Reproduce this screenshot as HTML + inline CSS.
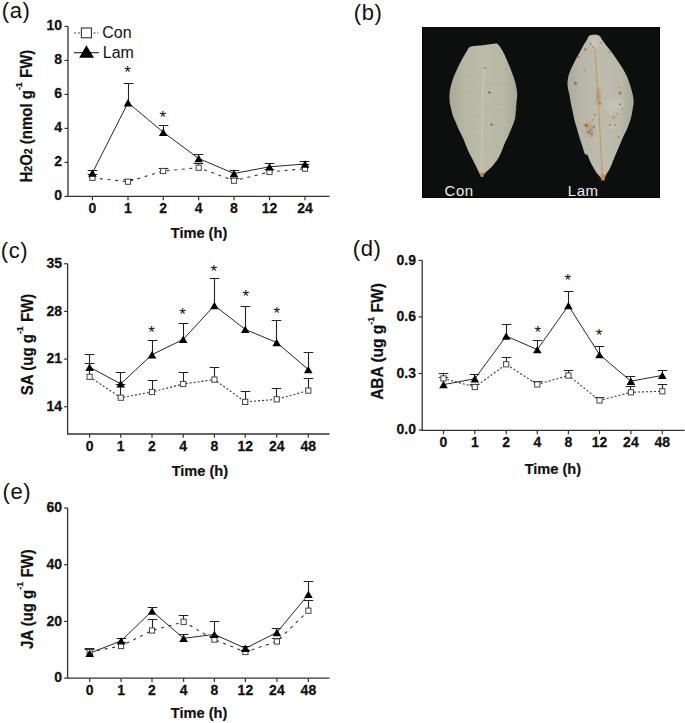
<!DOCTYPE html>
<html><head><meta charset="utf-8"><style>
html,body{margin:0;padding:0;background:#fff;}
svg{display:block;}
text{font-family:"Liberation Sans", sans-serif;fill:#111;}
.tl{font-weight:bold;font-size:14px;stroke:#111;stroke-width:0.25px;}
.xt{font-weight:bold;font-size:14.6px;stroke:#111;stroke-width:0.2px;}
.yt{font-weight:bold;font-size:15px;stroke:#111;stroke-width:0.2px;}
.pl{font-size:22px;letter-spacing:0.6px;}
.lg{font-size:16px;}
.as{font-size:17px;}
.ph{font-size:15px;fill:#ececec;letter-spacing:0.5px;}
</style></head><body>
<svg width="685" height="723" viewBox="0 0 685 723">
<rect width="685" height="723" fill="#fff"/>
<path d="M68 26.4V196.4H329.5" fill="none" stroke="#333" stroke-width="1.3"/>
<path d="M64.5 196.4H68" stroke="#333" stroke-width="1.2"/>
<text transform="translate(62 199.5) scale(1 1.08)" text-anchor="end" class="tl">0</text>
<path d="M64.5 162.4H68" stroke="#333" stroke-width="1.2"/>
<text transform="translate(62 165.5) scale(1 1.08)" text-anchor="end" class="tl">2</text>
<path d="M64.5 128.4H68" stroke="#333" stroke-width="1.2"/>
<text transform="translate(62 131.5) scale(1 1.08)" text-anchor="end" class="tl">4</text>
<path d="M64.5 94.4H68" stroke="#333" stroke-width="1.2"/>
<text transform="translate(62 97.5) scale(1 1.08)" text-anchor="end" class="tl">6</text>
<path d="M64.5 60.4H68" stroke="#333" stroke-width="1.2"/>
<text transform="translate(62 63.5) scale(1 1.08)" text-anchor="end" class="tl">8</text>
<path d="M64.5 26.4H68" stroke="#333" stroke-width="1.2"/>
<text transform="translate(62 29.5) scale(1 1.08)" text-anchor="end" class="tl">10</text>
<path d="M92.4 196.4V200.2" stroke="#333" stroke-width="1.2"/>
<text transform="translate(92.4 213.2) scale(1 1.08)" text-anchor="middle" class="tl">0</text>
<path d="M128 196.4V200.2" stroke="#333" stroke-width="1.2"/>
<text transform="translate(128 213.2) scale(1 1.08)" text-anchor="middle" class="tl">1</text>
<path d="M163.2 196.4V200.2" stroke="#333" stroke-width="1.2"/>
<text transform="translate(163.2 213.2) scale(1 1.08)" text-anchor="middle" class="tl">2</text>
<path d="M198.7 196.4V200.2" stroke="#333" stroke-width="1.2"/>
<text transform="translate(198.7 213.2) scale(1 1.08)" text-anchor="middle" class="tl">4</text>
<path d="M234 196.4V200.2" stroke="#333" stroke-width="1.2"/>
<text transform="translate(234 213.2) scale(1 1.08)" text-anchor="middle" class="tl">8</text>
<path d="M269.5 196.4V200.2" stroke="#333" stroke-width="1.2"/>
<text transform="translate(269.5 213.2) scale(1 1.08)" text-anchor="middle" class="tl">12</text>
<path d="M305 196.4V200.2" stroke="#333" stroke-width="1.2"/>
<text transform="translate(305 213.2) scale(1 1.08)" text-anchor="middle" class="tl">24</text>
<text x="199" y="237.6" text-anchor="middle" class="xt">Time (h)</text>
<text transform="translate(31.8 116.1) rotate(-90) scale(1 1.09)" text-anchor="middle" class="yt" style="font-size:15px">H<tspan font-size="10.5">2</tspan>O<tspan font-size="10.5">2</tspan> (nmol g<tspan font-size="9" dy="-8.6">-1</tspan><tspan dy="8.6"> FW)</tspan></text>
<text x="1.8" y="17.6" class="pl">(a)</text>
<polyline points="92.4,177.8 128,181.7 163.2,171 198.7,167.7 234,180.7 269.5,172 305,168.7" fill="none" stroke="#333" stroke-width="1.1" stroke-dasharray="3 4.6"/>
<polyline points="92.4,173 128,102.7 163.2,132.2 198.7,158.5 234,173.5 269.5,166.8 305,164" fill="none" stroke="#282828" stroke-width="1"/>
<path d="M92.5 177.8V174.5M87.7 174.5H97.3" stroke="#222" stroke-width="1.1" fill="none"/>
<path d="M128.5 181.7V179.5M123.7 179.5H133.3" stroke="#222" stroke-width="1.1" fill="none"/>
<path d="M163.5 171V168.5M158.7 168.5H168.3" stroke="#222" stroke-width="1.1" fill="none"/>
<path d="M198.5 167.7V163.5M193.7 163.5H203.3" stroke="#222" stroke-width="1.1" fill="none"/>
<path d="M234.5 180.7V178.5M229.7 178.5H239.3" stroke="#222" stroke-width="1.1" fill="none"/>
<path d="M269.5 172V169.5M264.7 169.5H274.3" stroke="#222" stroke-width="1.1" fill="none"/>
<path d="M304.5 168.7V164.5M299.7 164.5H309.3" stroke="#222" stroke-width="1.1" fill="none"/>
<path d="M92.5 173V170.5M87.7 170.5H97.3" stroke="#222" stroke-width="1.1" fill="none"/>
<path d="M128.5 102.7V83.5M123.7 83.5H133.3" stroke="#222" stroke-width="1.1" fill="none"/>
<path d="M163.5 132.2V125.5M158.7 125.5H168.3" stroke="#222" stroke-width="1.1" fill="none"/>
<path d="M198.5 158.5V154.5M193.7 154.5H203.3" stroke="#222" stroke-width="1.1" fill="none"/>
<path d="M234.5 173.5V170.5M229.7 170.5H239.3" stroke="#222" stroke-width="1.1" fill="none"/>
<path d="M269.5 166.8V163.5M264.7 163.5H274.3" stroke="#222" stroke-width="1.1" fill="none"/>
<path d="M304.5 164V161.5M299.7 161.5H309.3" stroke="#222" stroke-width="1.1" fill="none"/>
<rect x="89.8" y="175.2" width="5.2" height="5.2" fill="#fff" stroke="#444" stroke-width="1"/>
<rect x="125.4" y="179.1" width="5.2" height="5.2" fill="#fff" stroke="#444" stroke-width="1"/>
<rect x="160.6" y="168.4" width="5.2" height="5.2" fill="#fff" stroke="#444" stroke-width="1"/>
<rect x="196.1" y="165.1" width="5.2" height="5.2" fill="#fff" stroke="#444" stroke-width="1"/>
<rect x="231.4" y="178.1" width="5.2" height="5.2" fill="#fff" stroke="#444" stroke-width="1"/>
<rect x="266.9" y="169.4" width="5.2" height="5.2" fill="#fff" stroke="#444" stroke-width="1"/>
<rect x="302.4" y="166.1" width="5.2" height="5.2" fill="#fff" stroke="#444" stroke-width="1"/>
<path d="M92.4 169.3L96.7 176.7L88.1 176.7Z" fill="#000"/>
<path d="M128 99L132.3 106.4L123.7 106.4Z" fill="#000"/>
<path d="M163.2 128.5L167.5 135.9L158.9 135.9Z" fill="#000"/>
<path d="M198.7 154.8L203 162.2L194.4 162.2Z" fill="#000"/>
<path d="M234 169.8L238.3 177.2L229.7 177.2Z" fill="#000"/>
<path d="M269.5 163.1L273.8 170.5L265.2 170.5Z" fill="#000"/>
<path d="M305 160.3L309.3 167.7L300.7 167.7Z" fill="#000"/>
<text x="127.5" y="77.6" text-anchor="middle" class="as">*</text>
<text x="162.8" y="122.9" text-anchor="middle" class="as">*</text>
<path d="M67.6 263.8V434H329.5" fill="none" stroke="#333" stroke-width="1.3"/>
<path d="M64.1 406.76H67.6" stroke="#333" stroke-width="1.2"/>
<text transform="translate(62 410.86) scale(1 1.08)" text-anchor="end" class="tl">14</text>
<path d="M64.1 359.09H67.6" stroke="#333" stroke-width="1.2"/>
<text transform="translate(62 363.19) scale(1 1.08)" text-anchor="end" class="tl">21</text>
<path d="M64.1 311.42H67.6" stroke="#333" stroke-width="1.2"/>
<text transform="translate(62 315.52) scale(1 1.08)" text-anchor="end" class="tl">28</text>
<path d="M64.1 263.75H67.6" stroke="#333" stroke-width="1.2"/>
<text transform="translate(62 267.85) scale(1 1.08)" text-anchor="end" class="tl">35</text>
<path d="M89.6 434V437.8" stroke="#333" stroke-width="1.2"/>
<text transform="translate(89.6 451.3) scale(1 1.08)" text-anchor="middle" class="tl">0</text>
<path d="M120.7 434V437.8" stroke="#333" stroke-width="1.2"/>
<text transform="translate(120.7 451.3) scale(1 1.08)" text-anchor="middle" class="tl">1</text>
<path d="M152 434V437.8" stroke="#333" stroke-width="1.2"/>
<text transform="translate(152 451.3) scale(1 1.08)" text-anchor="middle" class="tl">2</text>
<path d="M183.2 434V437.8" stroke="#333" stroke-width="1.2"/>
<text transform="translate(183.2 451.3) scale(1 1.08)" text-anchor="middle" class="tl">4</text>
<path d="M214.4 434V437.8" stroke="#333" stroke-width="1.2"/>
<text transform="translate(214.4 451.3) scale(1 1.08)" text-anchor="middle" class="tl">8</text>
<path d="M245.2 434V437.8" stroke="#333" stroke-width="1.2"/>
<text transform="translate(245.2 451.3) scale(1 1.08)" text-anchor="middle" class="tl">12</text>
<path d="M276.7 434V437.8" stroke="#333" stroke-width="1.2"/>
<text transform="translate(276.7 451.3) scale(1 1.08)" text-anchor="middle" class="tl">24</text>
<path d="M308.3 434V437.8" stroke="#333" stroke-width="1.2"/>
<text transform="translate(308.3 451.3) scale(1 1.08)" text-anchor="middle" class="tl">48</text>
<text x="199.9" y="475.7" text-anchor="middle" class="xt">Time (h)</text>
<text transform="translate(32.6 344.4) rotate(-90) scale(1 1.09)" text-anchor="middle" class="yt" style="font-size:15px">SA (ug g<tspan font-size="9" dy="-8.6">-1</tspan><tspan dy="8.6"> FW)</tspan></text>
<text x="0.8" y="258.3" class="pl">(c)</text>
<polyline points="89.6,376.8 120.7,397.7 152,392 183.2,384 214.4,379.6 245.2,401.9 276.7,399.3 308.3,390.6" fill="none" stroke="#333" stroke-width="1.1" stroke-dasharray="2 2"/>
<polyline points="89.6,367.2 120.7,383.8 152,354.7 183.2,339.4 214.4,305.5 245.2,329.4 276.7,342.5 308.3,369.6" fill="none" stroke="#282828" stroke-width="1"/>
<path d="M89.5 376.8V363.5M84.7 363.5H94.3" stroke="#222" stroke-width="1.1" fill="none"/>
<path d="M120.5 397.7V384.5M115.7 384.5H125.3" stroke="#222" stroke-width="1.1" fill="none"/>
<path d="M152.5 392V380.5M147.7 380.5H157.3" stroke="#222" stroke-width="1.1" fill="none"/>
<path d="M183.5 384V372.5M178.7 372.5H188.3" stroke="#222" stroke-width="1.1" fill="none"/>
<path d="M214.5 379.6V367.5M209.7 367.5H219.3" stroke="#222" stroke-width="1.1" fill="none"/>
<path d="M245.5 401.9V391.5M240.7 391.5H250.3" stroke="#222" stroke-width="1.1" fill="none"/>
<path d="M276.5 399.3V388.5M271.7 388.5H281.3" stroke="#222" stroke-width="1.1" fill="none"/>
<path d="M308.5 390.6V378.5M303.7 378.5H313.3" stroke="#222" stroke-width="1.1" fill="none"/>
<path d="M89.5 367.2V354.5M84.7 354.5H94.3" stroke="#222" stroke-width="1.1" fill="none"/>
<path d="M120.5 383.8V372.5M115.7 372.5H125.3" stroke="#222" stroke-width="1.1" fill="none"/>
<path d="M152.5 354.7V340.5M147.7 340.5H157.3" stroke="#222" stroke-width="1.1" fill="none"/>
<path d="M183.5 339.4V323.5M178.7 323.5H188.3" stroke="#222" stroke-width="1.1" fill="none"/>
<path d="M214.5 305.5V278.5M209.7 278.5H219.3" stroke="#222" stroke-width="1.1" fill="none"/>
<path d="M245.5 329.4V306.5M240.7 306.5H250.3" stroke="#222" stroke-width="1.1" fill="none"/>
<path d="M276.5 342.5V320.5M271.7 320.5H281.3" stroke="#222" stroke-width="1.1" fill="none"/>
<path d="M308.5 369.6V352.5M303.7 352.5H313.3" stroke="#222" stroke-width="1.1" fill="none"/>
<rect x="87" y="374.2" width="5.2" height="5.2" fill="#fff" stroke="#444" stroke-width="1"/>
<rect x="118.1" y="395.1" width="5.2" height="5.2" fill="#fff" stroke="#444" stroke-width="1"/>
<rect x="149.4" y="389.4" width="5.2" height="5.2" fill="#fff" stroke="#444" stroke-width="1"/>
<rect x="180.6" y="381.4" width="5.2" height="5.2" fill="#fff" stroke="#444" stroke-width="1"/>
<rect x="211.8" y="377" width="5.2" height="5.2" fill="#fff" stroke="#444" stroke-width="1"/>
<rect x="242.6" y="399.3" width="5.2" height="5.2" fill="#fff" stroke="#444" stroke-width="1"/>
<rect x="274.1" y="396.7" width="5.2" height="5.2" fill="#fff" stroke="#444" stroke-width="1"/>
<rect x="305.7" y="388" width="5.2" height="5.2" fill="#fff" stroke="#444" stroke-width="1"/>
<path d="M89.6 363.5L93.9 370.9L85.3 370.9Z" fill="#000"/>
<path d="M120.7 380.1L125 387.5L116.4 387.5Z" fill="#000"/>
<path d="M152 351L156.3 358.4L147.7 358.4Z" fill="#000"/>
<path d="M183.2 335.7L187.5 343.1L178.9 343.1Z" fill="#000"/>
<path d="M214.4 301.8L218.7 309.2L210.1 309.2Z" fill="#000"/>
<path d="M245.2 325.7L249.5 333.1L240.9 333.1Z" fill="#000"/>
<path d="M276.7 338.8L281 346.2L272.4 346.2Z" fill="#000"/>
<path d="M308.3 365.9L312.6 373.3L304 373.3Z" fill="#000"/>
<text x="151.5" y="337.6" text-anchor="middle" class="as">*</text>
<text x="182.5" y="319.9" text-anchor="middle" class="as">*</text>
<text x="213.9" y="276.5" text-anchor="middle" class="as">*</text>
<text x="245.8" y="302" text-anchor="middle" class="as">*</text>
<text x="276.7" y="318.6" text-anchor="middle" class="as">*</text>
<path d="M422.2 260.4V430.4H684.5" fill="none" stroke="#333" stroke-width="1.3"/>
<path d="M418.7 430H422.2" stroke="#333" stroke-width="1.2"/>
<text transform="translate(416 434.1) scale(1 1.08)" text-anchor="end" class="tl">0.0</text>
<path d="M418.7 373.5H422.2" stroke="#333" stroke-width="1.2"/>
<text transform="translate(416 377.6) scale(1 1.08)" text-anchor="end" class="tl">0.3</text>
<path d="M418.7 316.9H422.2" stroke="#333" stroke-width="1.2"/>
<text transform="translate(416 321) scale(1 1.08)" text-anchor="end" class="tl">0.6</text>
<path d="M418.7 260.4H422.2" stroke="#333" stroke-width="1.2"/>
<text transform="translate(416 264.5) scale(1 1.08)" text-anchor="end" class="tl">0.9</text>
<path d="M443.5 430.4V434.2" stroke="#333" stroke-width="1.2"/>
<text transform="translate(443.5 446.7) scale(1 1.08)" text-anchor="middle" class="tl">0</text>
<path d="M474.8 430.4V434.2" stroke="#333" stroke-width="1.2"/>
<text transform="translate(474.8 446.7) scale(1 1.08)" text-anchor="middle" class="tl">1</text>
<path d="M506.2 430.4V434.2" stroke="#333" stroke-width="1.2"/>
<text transform="translate(506.2 446.7) scale(1 1.08)" text-anchor="middle" class="tl">2</text>
<path d="M537.3 430.4V434.2" stroke="#333" stroke-width="1.2"/>
<text transform="translate(537.3 446.7) scale(1 1.08)" text-anchor="middle" class="tl">4</text>
<path d="M568.4 430.4V434.2" stroke="#333" stroke-width="1.2"/>
<text transform="translate(568.4 446.7) scale(1 1.08)" text-anchor="middle" class="tl">8</text>
<path d="M599.5 430.4V434.2" stroke="#333" stroke-width="1.2"/>
<text transform="translate(599.5 446.7) scale(1 1.08)" text-anchor="middle" class="tl">12</text>
<path d="M630.9 430.4V434.2" stroke="#333" stroke-width="1.2"/>
<text transform="translate(630.9 446.7) scale(1 1.08)" text-anchor="middle" class="tl">24</text>
<path d="M662.3 430.4V434.2" stroke="#333" stroke-width="1.2"/>
<text transform="translate(662.3 446.7) scale(1 1.08)" text-anchor="middle" class="tl">48</text>
<text x="552.9" y="474" text-anchor="middle" class="xt">Time (h)</text>
<text transform="translate(383.3 341.5) rotate(-90) scale(1 1.09)" text-anchor="middle" class="yt" style="font-size:15.5px">ABA (ug g<tspan font-size="9" dy="-8.6">-1</tspan><tspan dy="8.6"> FW)</tspan></text>
<text x="352.8" y="256.4" class="pl">(d)</text>
<polyline points="443.5,378.4 474.8,387 506.2,364.3 537.3,384.4 568.4,375.5 599.5,400.4 630.9,392.3 662.3,391.3" fill="none" stroke="#333" stroke-width="1.1" stroke-dasharray="2 2"/>
<polyline points="443.5,384.6 474.8,378.8 506.2,336.1 537.3,349.6 568.4,305.6 599.5,354.6 630.9,381.2 662.3,375.4" fill="none" stroke="#282828" stroke-width="1"/>
<path d="M443.5 378.4V373.5M438.7 373.5H448.3" stroke="#222" stroke-width="1.1" fill="none"/>
<path d="M474.5 387V384.5M469.7 384.5H479.3" stroke="#222" stroke-width="1.1" fill="none"/>
<path d="M506.5 364.3V357.5M501.7 357.5H511.3" stroke="#222" stroke-width="1.1" fill="none"/>
<path d="M537.5 384.4V381.5M532.7 381.5H542.3" stroke="#222" stroke-width="1.1" fill="none"/>
<path d="M568.5 375.5V370.5M563.7 370.5H573.3" stroke="#222" stroke-width="1.1" fill="none"/>
<path d="M599.5 400.4V397.5M594.7 397.5H604.3" stroke="#222" stroke-width="1.1" fill="none"/>
<path d="M630.5 392.3V386.5M625.7 386.5H635.3" stroke="#222" stroke-width="1.1" fill="none"/>
<path d="M662.5 391.3V384.5M657.7 384.5H667.3" stroke="#222" stroke-width="1.1" fill="none"/>
<path d="M443.5 384.6V377.5M438.7 377.5H448.3" stroke="#222" stroke-width="1.1" fill="none"/>
<path d="M474.5 378.8V374.5M469.7 374.5H479.3" stroke="#222" stroke-width="1.1" fill="none"/>
<path d="M506.5 336.1V324.5M501.7 324.5H511.3" stroke="#222" stroke-width="1.1" fill="none"/>
<path d="M537.5 349.6V340.5M532.7 340.5H542.3" stroke="#222" stroke-width="1.1" fill="none"/>
<path d="M568.5 305.6V291.5M563.7 291.5H573.3" stroke="#222" stroke-width="1.1" fill="none"/>
<path d="M599.5 354.6V346.5M594.7 346.5H604.3" stroke="#222" stroke-width="1.1" fill="none"/>
<path d="M630.5 381.2V376.5M625.7 376.5H635.3" stroke="#222" stroke-width="1.1" fill="none"/>
<path d="M662.5 375.4V370.5M657.7 370.5H667.3" stroke="#222" stroke-width="1.1" fill="none"/>
<rect x="440.9" y="375.8" width="5.2" height="5.2" fill="#fff" stroke="#444" stroke-width="1"/>
<rect x="472.2" y="384.4" width="5.2" height="5.2" fill="#fff" stroke="#444" stroke-width="1"/>
<rect x="503.6" y="361.7" width="5.2" height="5.2" fill="#fff" stroke="#444" stroke-width="1"/>
<rect x="534.7" y="381.8" width="5.2" height="5.2" fill="#fff" stroke="#444" stroke-width="1"/>
<rect x="565.8" y="372.9" width="5.2" height="5.2" fill="#fff" stroke="#444" stroke-width="1"/>
<rect x="596.9" y="397.8" width="5.2" height="5.2" fill="#fff" stroke="#444" stroke-width="1"/>
<rect x="628.3" y="389.7" width="5.2" height="5.2" fill="#fff" stroke="#444" stroke-width="1"/>
<rect x="659.7" y="388.7" width="5.2" height="5.2" fill="#fff" stroke="#444" stroke-width="1"/>
<path d="M443.5 380.9L447.8 388.3L439.2 388.3Z" fill="#000"/>
<path d="M474.8 375.1L479.1 382.5L470.5 382.5Z" fill="#000"/>
<path d="M506.2 332.4L510.5 339.8L501.9 339.8Z" fill="#000"/>
<path d="M537.3 345.9L541.6 353.3L533 353.3Z" fill="#000"/>
<path d="M568.4 301.9L572.7 309.3L564.1 309.3Z" fill="#000"/>
<path d="M599.5 350.9L603.8 358.3L595.2 358.3Z" fill="#000"/>
<path d="M630.9 377.5L635.2 384.9L626.6 384.9Z" fill="#000"/>
<path d="M662.3 371.7L666.6 379.1L658 379.1Z" fill="#000"/>
<text x="537.7" y="338.1" text-anchor="middle" class="as">*</text>
<text x="567.8" y="286.2" text-anchor="middle" class="as">*</text>
<text x="599" y="341.2" text-anchor="middle" class="as">*</text>
<path d="M67.6 508V678.1H329.5" fill="none" stroke="#333" stroke-width="1.3"/>
<path d="M64.1 678.1H67.6" stroke="#333" stroke-width="1.2"/>
<text transform="translate(62 682.2) scale(1 1.08)" text-anchor="end" class="tl">0</text>
<path d="M64.1 621.4H67.6" stroke="#333" stroke-width="1.2"/>
<text transform="translate(62 625.5) scale(1 1.08)" text-anchor="end" class="tl">20</text>
<path d="M64.1 564.7H67.6" stroke="#333" stroke-width="1.2"/>
<text transform="translate(62 568.8) scale(1 1.08)" text-anchor="end" class="tl">40</text>
<path d="M64.1 508H67.6" stroke="#333" stroke-width="1.2"/>
<text transform="translate(62 512.1) scale(1 1.08)" text-anchor="end" class="tl">60</text>
<path d="M89.7 678.1V681.9" stroke="#333" stroke-width="1.2"/>
<text transform="translate(89.7 695.2) scale(1 1.08)" text-anchor="middle" class="tl">0</text>
<path d="M121.1 678.1V681.9" stroke="#333" stroke-width="1.2"/>
<text transform="translate(121.1 695.2) scale(1 1.08)" text-anchor="middle" class="tl">1</text>
<path d="M152 678.1V681.9" stroke="#333" stroke-width="1.2"/>
<text transform="translate(152 695.2) scale(1 1.08)" text-anchor="middle" class="tl">2</text>
<path d="M183.6 678.1V681.9" stroke="#333" stroke-width="1.2"/>
<text transform="translate(183.6 695.2) scale(1 1.08)" text-anchor="middle" class="tl">4</text>
<path d="M214.4 678.1V681.9" stroke="#333" stroke-width="1.2"/>
<text transform="translate(214.4 695.2) scale(1 1.08)" text-anchor="middle" class="tl">8</text>
<path d="M245.4 678.1V681.9" stroke="#333" stroke-width="1.2"/>
<text transform="translate(245.4 695.2) scale(1 1.08)" text-anchor="middle" class="tl">12</text>
<path d="M276.9 678.1V681.9" stroke="#333" stroke-width="1.2"/>
<text transform="translate(276.9 695.2) scale(1 1.08)" text-anchor="middle" class="tl">24</text>
<path d="M308.4 678.1V681.9" stroke="#333" stroke-width="1.2"/>
<text transform="translate(308.4 695.2) scale(1 1.08)" text-anchor="middle" class="tl">48</text>
<text x="199.1" y="718.3" text-anchor="middle" class="xt">Time (h)</text>
<text transform="translate(32.5 599.2) rotate(-90) scale(1 1.09)" text-anchor="middle" class="yt" style="font-size:15px">JA (ug g<tspan font-size="9" dy="-8.6">-1</tspan><tspan dy="8.6"> FW)</tspan></text>
<text x="2.6" y="498.8" class="pl">(e)</text>
<polyline points="89.7,652 121.1,646 152,630.5 183.6,621.8 214.4,639.6 245.4,652 276.9,641.5 308.4,610.7" fill="none" stroke="#333" stroke-width="1.1" stroke-dasharray="3 4.6"/>
<polyline points="89.7,653.2 121.1,640.9 152,611.1 183.6,638.3 214.4,634.4 245.4,648.3 276.9,632.5 308.4,594.4" fill="none" stroke="#282828" stroke-width="1"/>
<path d="M89.5 652V648.5M84.7 648.5H94.3" stroke="#222" stroke-width="1.1" fill="none"/>
<path d="M121.5 646V642.5M116.7 642.5H126.3" stroke="#222" stroke-width="1.1" fill="none"/>
<path d="M152.5 630.5V619.5M147.7 619.5H157.3" stroke="#222" stroke-width="1.1" fill="none"/>
<path d="M183.5 621.8V615.5M178.7 615.5H188.3" stroke="#222" stroke-width="1.1" fill="none"/>
<path d="M214.5 639.6V636.5M209.7 636.5H219.3" stroke="#222" stroke-width="1.1" fill="none"/>
<path d="M245.5 652V650.5M240.7 650.5H250.3" stroke="#222" stroke-width="1.1" fill="none"/>
<path d="M276.5 641.5V638.5M271.7 638.5H281.3" stroke="#222" stroke-width="1.1" fill="none"/>
<path d="M308.5 610.7V600.5M303.7 600.5H313.3" stroke="#222" stroke-width="1.1" fill="none"/>
<path d="M89.5 653.2V649.5M84.7 649.5H94.3" stroke="#222" stroke-width="1.1" fill="none"/>
<path d="M121.5 640.9V638.5M116.7 638.5H126.3" stroke="#222" stroke-width="1.1" fill="none"/>
<path d="M152.5 611.1V607.5M147.7 607.5H157.3" stroke="#222" stroke-width="1.1" fill="none"/>
<path d="M183.5 638.3V634.5M178.7 634.5H188.3" stroke="#222" stroke-width="1.1" fill="none"/>
<path d="M214.5 634.4V621.5M209.7 621.5H219.3" stroke="#222" stroke-width="1.1" fill="none"/>
<path d="M245.5 648.3V646.5M240.7 646.5H250.3" stroke="#222" stroke-width="1.1" fill="none"/>
<path d="M276.5 632.5V628.5M271.7 628.5H281.3" stroke="#222" stroke-width="1.1" fill="none"/>
<path d="M308.5 594.4V581.5M303.7 581.5H313.3" stroke="#222" stroke-width="1.1" fill="none"/>
<rect x="87.1" y="649.4" width="5.2" height="5.2" fill="#fff" stroke="#444" stroke-width="1"/>
<rect x="118.5" y="643.4" width="5.2" height="5.2" fill="#fff" stroke="#444" stroke-width="1"/>
<rect x="149.4" y="627.9" width="5.2" height="5.2" fill="#fff" stroke="#444" stroke-width="1"/>
<rect x="181" y="619.2" width="5.2" height="5.2" fill="#fff" stroke="#444" stroke-width="1"/>
<rect x="211.8" y="637" width="5.2" height="5.2" fill="#fff" stroke="#444" stroke-width="1"/>
<rect x="242.8" y="649.4" width="5.2" height="5.2" fill="#fff" stroke="#444" stroke-width="1"/>
<rect x="274.3" y="638.9" width="5.2" height="5.2" fill="#fff" stroke="#444" stroke-width="1"/>
<rect x="305.8" y="608.1" width="5.2" height="5.2" fill="#fff" stroke="#444" stroke-width="1"/>
<path d="M89.7 649.5L94 656.9L85.4 656.9Z" fill="#000"/>
<path d="M121.1 637.2L125.4 644.6L116.8 644.6Z" fill="#000"/>
<path d="M152 607.4L156.3 614.8L147.7 614.8Z" fill="#000"/>
<path d="M183.6 634.6L187.9 642L179.3 642Z" fill="#000"/>
<path d="M214.4 630.7L218.7 638.1L210.1 638.1Z" fill="#000"/>
<path d="M245.4 644.6L249.7 652L241.1 652Z" fill="#000"/>
<path d="M276.9 628.8L281.2 636.2L272.6 636.2Z" fill="#000"/>
<path d="M308.4 590.7L312.7 598.1L304.1 598.1Z" fill="#000"/>
<path d="M74 33H98.6" stroke="#444" stroke-width="1" stroke-dasharray="2 1.9"/>
<rect x="81.4" y="28" width="10" height="9.8" fill="#fff" stroke="#333" stroke-width="1.1"/>
<text x="102.2" y="37.6" class="lg">Con</text>
<path d="M74 52.7H99" stroke="#222" stroke-width="1.1"/>
<path d="M86.4 45.3L94 57.8L79.2 57.8Z" fill="#000"/>
<text x="102.8" y="57.9" class="lg">Lam</text>
<text x="353.8" y="19.8" class="pl">(b)</text>

<defs>
<linearGradient id="lg1" x1="0" y1="0" x2="1" y2="0">
<stop offset="0" stop-color="#aba996"/><stop offset="0.2" stop-color="#b7b5a3"/><stop offset="0.5" stop-color="#bcbaa9"/><stop offset="0.8" stop-color="#b8b6a4"/><stop offset="1" stop-color="#aaa895"/>
</linearGradient>
<linearGradient id="lg2" x1="0" y1="0" x2="1" y2="0">
<stop offset="0" stop-color="#acaa9c"/><stop offset="0.2" stop-color="#b8b6a9"/><stop offset="0.5" stop-color="#bebcaf"/><stop offset="0.8" stop-color="#bab8ab"/><stop offset="1" stop-color="#aaa89a"/>
</linearGradient>
<filter id="bl" x="-5%" y="-5%" width="110%" height="110%"><feGaussianBlur stdDeviation="0.45"/></filter>
<filter id="bl2" x="-50%" y="-50%" width="200%" height="200%"><feGaussianBlur stdDeviation="0.7"/></filter>
<filter id="bl3" x="-50%" y="-50%" width="200%" height="200%"><feGaussianBlur stdDeviation="1.6"/></filter>
</defs>
<rect x="422" y="27" width="238" height="171" fill="#0d0e0e"/>
<rect x="422.5" y="27.5" width="237" height="170" fill="none" stroke="#030303" stroke-width="1"/>
<g filter="url(#bl)">
<path d="M470.2 46.8C472.38 45.7 475.67 45.98 479.4 45.5C483.13 45.02 489.53 44.12 492.6 43.9C495.67 43.68 496.27 43.27 497.8 44.2C499.33 45.13 500.48 47.32 501.8 49.5C503.12 51.68 504.4 54.47 505.7 57.3C507 60.13 508.28 63.22 509.6 66.5C510.92 69.78 512.5 73.72 513.6 77C514.7 80.28 515.6 83.2 516.2 86.2C516.8 89.2 517.15 92.37 517.2 95C517.25 97.63 516.72 99.65 516.5 102C516.28 104.35 516.1 106.53 515.9 109.1C515.7 111.67 515.7 115.05 515.3 117.4C514.9 119.75 514.18 121.25 513.5 123.2C512.82 125.15 512.08 126.93 511.2 129.1C510.32 131.27 509.18 134.03 508.2 136.2C507.22 138.37 506.18 140.15 505.3 142.1C504.42 144.05 503.88 145.55 502.9 147.9C501.92 150.25 500.77 153.65 499.4 156.2C498.03 158.75 496.37 161.05 494.7 163.2C493.03 165.35 491.07 167.43 489.4 169.1C487.73 170.77 485.93 172 484.7 173.2C483.47 174.4 482.73 176 482 176.3C481.27 176.6 480.88 175.82 480.3 175C479.72 174.18 479.28 172.98 478.5 171.4C477.72 169.82 476.67 167.65 475.6 165.5C474.53 163.35 473.28 160.85 472.1 158.5C470.92 156.15 469.58 153.75 468.5 151.4C467.42 149.05 466.58 146.75 465.6 144.4C464.62 142.05 463.68 139.65 462.6 137.3C461.52 134.95 460.27 132.85 459.1 130.3C457.93 127.75 456.68 124.55 455.6 122C454.52 119.45 453.38 117.35 452.6 115C451.82 112.65 451.38 110.07 450.9 107.9C450.42 105.73 449.93 104.15 449.7 102C449.47 99.85 449.37 97.4 449.5 95C449.63 92.6 449.9 90.37 450.5 87.6C451.1 84.83 452 81.47 453.1 78.4C454.2 75.33 455.78 72.05 457.1 69.2C458.42 66.35 459.47 64.15 461 61.3C462.53 58.45 464.77 54.52 466.3 52.1C467.83 49.68 468.02 47.9 470.2 46.8Z" fill="url(#lg1)"/>
<path d="M481.6 174 C481.8 150 482 120 482.4 100 C482.7 85 483.3 75 485 66" stroke="#c9c5b2" stroke-width="1.6" fill="none"/>
<path d="M480.2 172.6 L483.8 172.6 L483.4 177 L480.8 177 Z" fill="#b58a48"/>
<g stroke="#a4a28f" stroke-width="0.7" fill="none" opacity="0.3">
<path d="M483.5 82 C476 76 468 72 460 78"/>
<path d="M483 100 C475 92 466 90 456 97"/>
<path d="M482.6 120 C476 113 468 112 459 119"/>
<path d="M482.4 140 C477 134 471 133 465 138"/>
<path d="M483.4 90 C490 83 500 80 511 86"/>
<path d="M483 110 C490 104 500 102 512 108"/>
<path d="M482.6 130 C489 124 497 123 506 128"/>
<path d="M482.3 150 C487 145 493 144 500 148"/>
</g>

<path d="M589.8 35.5C591.67 34.85 596.32 34.57 598.4 35.3C600.48 36.03 600.77 37.93 602.3 39.9C603.83 41.87 605.85 44.8 607.6 47.1C609.35 49.4 611.05 51.3 612.8 53.7C614.55 56.1 616.35 58.88 618.1 61.5C619.85 64.12 621.77 66.77 623.3 69.4C624.83 72.03 626.1 74.45 627.3 77.3C628.5 80.15 629.58 83.55 630.5 86.5C631.42 89.45 632.28 92.33 632.8 95C633.32 97.67 633.68 99.8 633.6 102.5C633.52 105.2 632.72 108.72 632.3 111.2C631.88 113.68 631.72 115.12 631.1 117.4C630.48 119.68 629.53 122.42 628.6 124.9C627.67 127.38 626.53 130.03 625.5 132.3C624.47 134.57 623.43 136.22 622.4 138.5C621.37 140.78 620.35 143.5 619.3 146C618.25 148.5 617.15 151.02 616.1 153.5C615.05 155.98 614.03 158.42 613 160.9C611.97 163.38 610.93 166.32 609.9 168.4C608.87 170.48 607.62 171.95 606.8 173.4C605.98 174.85 605.63 176.23 605 177.1C604.37 177.97 603.63 178.42 603 178.6C602.37 178.78 601.82 178.65 601.2 178.2C600.58 177.75 600.13 176.9 599.3 175.9C598.47 174.9 597.33 173.85 596.2 172.2C595.07 170.55 593.63 168.08 592.5 166C591.37 163.92 590.23 161.53 589.4 159.7C588.57 157.87 588.2 155.9 587.5 155C586.8 154.1 585.82 154.97 585.2 154.3C584.58 153.63 584.35 152.58 583.8 151C583.25 149.42 582.63 147.08 581.9 144.8C581.17 142.52 580.23 140 579.4 137.3C578.57 134.6 577.73 131.5 576.9 128.6C576.07 125.7 575.12 122.8 574.4 119.9C573.68 117 573.22 114.1 572.6 111.2C571.98 108.3 571.22 105.2 570.7 102.5C570.18 99.8 569.93 97.25 569.5 95C569.07 92.75 568.43 91.07 568.1 89C567.77 86.93 567.38 84.98 567.5 82.6C567.62 80.22 568.03 77.33 568.8 74.7C569.57 72.07 570.9 69.43 572.1 66.8C573.3 64.17 574.8 61.2 576 58.9C577.2 56.6 578.1 55.18 579.3 53C580.5 50.82 581.88 48.1 583.2 45.8C584.52 43.5 586.1 40.92 587.2 39.2C588.3 37.48 587.93 36.15 589.8 35.5Z" fill="url(#lg2)"/>
<path d="M595 44 C595 55 596.5 75 597.6 90 C598.7 110 600.3 140 602.3 175" stroke="#c4bca4" stroke-width="3.2" fill="none" opacity="0.9"/>
<path d="M595.2 48 C595.2 58 596.6 75 597.6 90 C598.7 110 600.3 140 602.3 175" stroke="#b89a68" stroke-width="1.3" fill="none" opacity="0.85"/>

<path d="M600.4 174.5 L605.2 174.5 L604.6 180.5 L601.4 180.5 Z" fill="#c9922e"/>
</g>
<g filter="url(#bl3)">
<ellipse cx="594.5" cy="42" rx="4" ry="6" fill="#c9c6b9" opacity="0.9"/>
<path d="M606 103 C609 99 614 100 618 98 C623 99 626 104 623 109 C620 113 616 111 612 114 C608 113 606 110 606 106 Z" fill="#c8c5ba" opacity="0.7"/><ellipse cx="612" cy="126" rx="5" ry="3" fill="#c6c3b8" opacity="0.6"/>
<ellipse cx="590" cy="130" rx="4.5" ry="7" fill="#a48660" opacity="0.35"/><ellipse cx="586" cy="125.5" rx="2.5" ry="1.6" fill="#c08a2e" opacity="0.9"/>
<ellipse cx="598.5" cy="96" rx="2" ry="9" fill="#a8824a" opacity="0.55"/>
</g>

<g filter="url(#bl2)">
<circle cx="585.2" cy="49.4" r="1.2349999999999999" fill="#a0622a" opacity="0.8"/>
<circle cx="578.6" cy="56.9" r="1.14" fill="#a0622a" opacity="0.8"/>
<circle cx="575.4" cy="83.2" r="1.615" fill="#a0622a" opacity="0.8"/>
<circle cx="620" cy="93" r="1.52" fill="#a0622a" opacity="0.8"/>
<circle cx="609.5" cy="52.3" r="0.76" fill="#a0622a" opacity="0.8"/>
<circle cx="601" cy="43.1" r="0.76" fill="#a0622a" opacity="0.8"/>
<circle cx="590.5" cy="43.8" r="0.95" fill="#a0622a" opacity="0.8"/>
<circle cx="593" cy="47" r="0.855" fill="#a0622a" opacity="0.8"/>
<circle cx="584.6" cy="70" r="0.6649999999999999" fill="#a0622a" opacity="0.8"/>
<circle cx="618.7" cy="87.8" r="0.76" fill="#a0622a" opacity="0.8"/>
<circle cx="586.3" cy="125.4" r="1.71" fill="#a0622a" opacity="0.8"/>
<circle cx="588.7" cy="132.3" r="1.2349999999999999" fill="#a0622a" opacity="0.8"/>
<circle cx="591.9" cy="133.6" r="1.14" fill="#a0622a" opacity="0.8"/>
<circle cx="593.7" cy="126.7" r="1.045" fill="#a0622a" opacity="0.8"/>
<circle cx="590.6" cy="129.9" r="0.95" fill="#a0622a" opacity="0.8"/>
<circle cx="595" cy="114.9" r="0.855" fill="#a0622a" opacity="0.8"/>
<circle cx="592.5" cy="119.9" r="0.76" fill="#a0622a" opacity="0.8"/>
<circle cx="591.9" cy="136" r="0.76" fill="#a0622a" opacity="0.8"/>
<circle cx="609.9" cy="124.9" r="0.855" fill="#a0622a" opacity="0.8"/>
<circle cx="613.7" cy="117.4" r="0.95" fill="#a0622a" opacity="0.8"/>
<circle cx="619.9" cy="104.3" r="0.95" fill="#a0622a" opacity="0.8"/>
<circle cx="614.9" cy="124.9" r="0.855" fill="#a0622a" opacity="0.8"/>
<circle cx="618.6" cy="137.3" r="0.95" fill="#a0622a" opacity="0.8"/>
<circle cx="616.8" cy="113.7" r="0.76" fill="#a0622a" opacity="0.8"/>
<circle cx="622.4" cy="108.7" r="0.76" fill="#a0622a" opacity="0.8"/>
<circle cx="600" cy="103.7" r="1.14" fill="#a0622a" opacity="0.8"/>
<circle cx="590.6" cy="149.8" r="0.6649999999999999" fill="#a0622a" opacity="0.8"/>
<circle cx="489.5" cy="92.5" r="1" fill="#4d4638"/><circle cx="485" cy="68" r="0.8" fill="#5d5447"/><circle cx="491.5" cy="124.5" r="1" fill="#5a5244"/><circle cx="516" cy="109" r="0.9" fill="#8a7a4a"/>
</g>
<text x="444.6" y="195.6" class="ph">Con</text>
<text x="567.8" y="195.6" class="ph">Lam</text>
</svg>
</body></html>
